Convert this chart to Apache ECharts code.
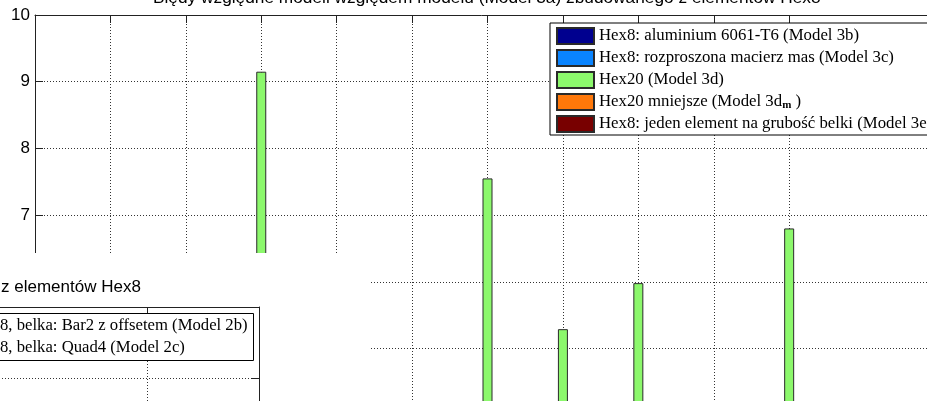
<!DOCTYPE html>
<html>
<head>
<meta charset="utf-8">
<title>Błędy względne modeli</title>
<script src="https://cdn.jsdelivr.net/npm/echarts@6/dist/echarts.min.js"></script>
<style>
  html, body { margin: 0; padding: 0; background: #fff; }
  #chart { width: 927px; height: 401px; }
</style>
</head>
<body>
<div id="chart"></div>
<script>
'use strict';

var categories = [1, 2, 3, 4, 5, 6, 7, 8, 9, 10];

// w kadrze widać tylko słupki Hex20, reszta jest poniżej dolnej krawędzi
var model3b = [null, null, null, null, null, null, null, null, null, null];
var model3c = [null, null, null, null, null, null, null, null, null, null];
var model3d = [null, null, 9.15, null, null, 7.55, 5.29, 5.98, null, 6.80];
var model3dm = [null, null, null, null, null, null, null, null, null, null];
var model3e = [null, null, null, null, null, null, null, null, null, null];

var seriesNames = [
  'Hex8: aluminium 6061-T6 (Model 3b)',
  'Hex8: rozproszona macierz mas (Model 3c)',
  'Hex20 (Model 3d)',
  'Hex20 mniejsze (Model 3d_m)',
  'Hex8: jeden element na grubość belki (Model 3e)'
];
var seriesColors = ['#00008f', '#0a84ff', '#8cf86c', '#ff780a', '#780000'];
var seriesData = [model3b, model3c, model3d, model3dm, model3e];

// drugi (zasłaniający) wykres
var title2 = 'z elementów Hex8';
var legend2 = [
  '8, belka: Bar2 z offsetem (Model 2b)',
  '8, belka: Quad4 (Model 2c)'
];

var dotted = { color: '#333', width: 1, type: [1, 2] };

var series = [];
for (var i = 0; i < seriesNames.length; i++) {
  series.push({
    name: seriesNames[i],
    type: 'bar',
    xAxisIndex: 0,
    yAxisIndex: 0,
    barWidth: 10,
    barGap: '0%',
    silent: true,
    itemStyle: { color: seriesColors[i], borderColor: '#2a2a2a', borderWidth: 1 },
    data: categories.map(function (c, k) { return [c, seriesData[i][k]]; })
  });
}

var myChart = echarts.init(document.getElementById('chart'));
myChart.setOption({
  animation: false,
  backgroundColor: '#fff',
  title: [{
    text: 'Błędy względne modeli względem modelu (Model 3a) zbudowanego z elementów Hex8',
    left: 153,
    top: -10,
    padding: 0,
    textStyle: { fontFamily: 'Liberation Sans', fontSize: 17.3, fontWeight: 'normal', color: '#000' }
  }, {
    text: title2,
    left: 1,
    top: 279,
    padding: 0,
    z: 130,
    textStyle: { fontFamily: 'Liberation Sans', fontSize: 17, fontWeight: 'normal', color: '#000' }
  }],
  legend: {
    data: seriesNames,
    orient: 'vertical',
    left: 550,
    top: 23,
    padding: [4, 14, 2, 6],
    itemWidth: 37,
    itemHeight: 16,
    itemGap: 4,
    icon: 'rect',
    selectedMode: false,
    backgroundColor: '#fff',
    borderColor: '#000',
    borderWidth: 1,
    borderRadius: 0,
    formatter: function (name) {
      if (name === seriesNames[3]) {
        return '{t|Hex20 mniejsze (Model 3d}{s|m}{t| )}';
      }
      return name;
    },
    textStyle: {
      fontFamily: 'Liberation Serif',
      fontSize: 16.8,
      lineHeight: 18,
      color: '#000',
      rich: {
        t: { fontFamily: 'Liberation Serif', fontSize: 16.8, lineHeight: 18, color: '#000' },
        s: { fontFamily: 'Liberation Serif', fontSize: 11, fontWeight: 'bold', color: '#000', padding: [7, 0, 0, 0] }
      }
    }
  },
  grid: [
    { left: 35, top: 15, width: 905, height: 667, outerBoundsMode: 'none' },
    { left: -13, top: 307, width: 272, height: 710, outerBoundsMode: 'none' }
  ],
  xAxis: [{
    type: 'value',
    gridIndex: 0,
    position: 'top',
    min: 0,
    max: 12,
    axisLine: { onZero: false, lineStyle: { color: '#222', width: 1 } },
    axisTick: { inside: true, length: 8, customValues: categories, lineStyle: { color: '#222' } },
    axisLabel: { show: false },
    splitLine: { show: true, lineStyle: dotted }
  }, {
    type: 'value',
    gridIndex: 1,
    position: 'top',
    min: 0,
    max: 1.7,
    z: 110,
    axisLine: { onZero: false, lineStyle: { color: '#222', width: 1 } },
    axisTick: { inside: true, length: 8, customValues: [1], lineStyle: { color: '#222' } },
    axisLabel: { show: false },
    splitLine: { show: true, lineStyle: dotted }
  }],
  yAxis: [{
    type: 'value',
    gridIndex: 0,
    position: 'left',
    min: 0,
    max: 10,
    interval: 1,
    axisLine: { show: true, onZero: false, lineStyle: { color: '#222', width: 1 } },
    axisTick: { show: true, inside: true, length: 8, lineStyle: { color: '#222' } },
    axisLabel: { margin: 5, fontFamily: 'Liberation Sans', fontSize: 17, color: '#000' },
    splitLine: { show: true, lineStyle: dotted }
  }, {
    type: 'value',
    gridIndex: 1,
    position: 'right',
    min: 0,
    max: 10,
    interval: 1,
    z: 110,
    axisLine: { show: true, onZero: false, lineStyle: { color: '#222', width: 1 } },
    axisTick: { show: true, inside: true, length: 8, lineStyle: { color: '#222' } },
    axisLabel: { show: false },
    splitLine: { show: true, lineStyle: dotted }
  }],
  graphic: {
    elements: [{
      type: 'rect',
      z: 100,
      shape: { x: 0, y: 253, width: 370, height: 148 },
      style: { fill: '#fff' }
    }, {
      type: 'rect',
      z: 120,
      shape: { x: -5, y: 313.5, width: 258.5, height: 47 },
      style: { fill: '#fff', stroke: '#000', lineWidth: 1 }
    }, {
      type: 'text',
      z: 121,
      x: 0,
      y: 326,
      style: { text: legend2[0], font: '16.7px "Liberation Serif"', fill: '#000', verticalAlign: 'middle' }
    }, {
      type: 'text',
      z: 121,
      x: 0,
      y: 348,
      style: { text: legend2[1], font: '16.7px "Liberation Serif"', fill: '#000', verticalAlign: 'middle' }
    }]
  },
  series: series
});
</script>
</body>
</html>
